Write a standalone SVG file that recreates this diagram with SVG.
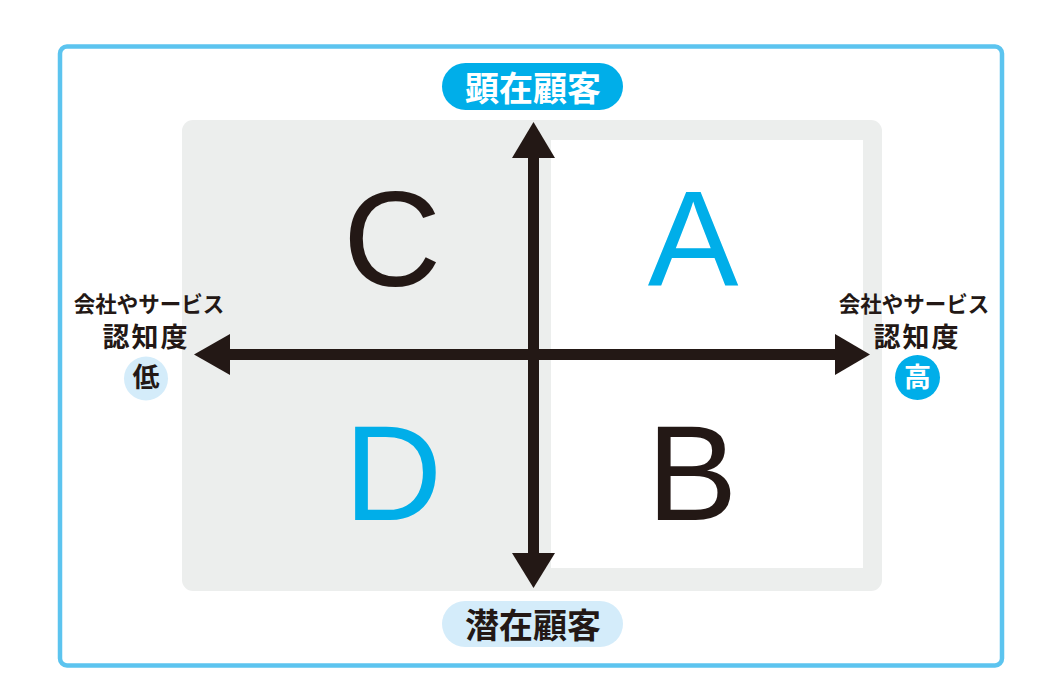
<svg xmlns="http://www.w3.org/2000/svg" width="1062" height="685" viewBox="0 0 1062 685">
<style>
.jp{font-family:"Noto Sans CJK JP","Noto Sans",sans-serif;font-weight:bold;text-anchor:middle}
.big{font-family:"Liberation Sans",Arial,sans-serif;font-size:136px;text-anchor:middle}
.dark{fill:#231815}
.blue{fill:#00aee9}
.ax{fill:#231815}
</style>
<rect x="0" y="0" width="1062" height="685" fill="#ffffff"/>
<g id="frame">
<rect x="60" y="46.5" width="942" height="619" rx="7" fill="none" stroke="#5cc4ef" stroke-width="4.5"/>
</g>
<g id="panel">
<rect x="182" y="120" width="700" height="471" rx="11" fill="#eceeed"/>
<rect x="551" y="140" width="312" height="428" fill="#ffffff"/>
</g>
<g id="quadrant-C"><text class="big dark" x="392" y="286">C</text></g>
<g id="quadrant-A"><text class="big blue" x="693" y="285">A</text></g>
<g id="quadrant-D"><text class="big blue" x="393" y="520">D</text></g>
<g id="quadrant-B"><text class="big dark" x="692" y="520">B</text></g>
<g id="connectors">
<rect x="528" y="150" width="11" height="410" class="ax"/>
<polygon points="533.5,122 512,158 555,158" class="ax"/>
<polygon points="533.5,588 512,553 555,553" class="ax"/>
<rect x="222" y="349" width="620" height="11" class="ax"/>
<polygon points="194,354.5 230,334 230,375" class="ax"/>
<polygon points="870,354.5 835,334 835,375" class="ax"/>
</g>
<g id="label-top">
<rect x="442" y="63" width="181" height="47" rx="23.5" fill="#00aee9"/>
<text class="jp" x="533" y="101" font-size="34" fill="#ffffff">顕在顧客</text>
</g>
<g id="label-bottom">
<rect x="442" y="601" width="181" height="46" rx="23" fill="#d4ecfa"/>
<text class="jp dark" x="533" y="638" font-size="34">潜在顧客</text>
</g>
<g id="label-left">
<text class="jp dark" x="149" y="312" font-size="21.5">会社やサービス</text>
<text class="jp dark" x="146" y="347" font-size="27" letter-spacing="2">認知度</text>
<circle cx="146" cy="378.5" r="22" fill="#d4ecfa"/>
<text class="jp dark" x="146" y="387" font-size="27">低</text>
</g>
<g id="label-right">
<text class="jp dark" x="914" y="312" font-size="21.5">会社やサービス</text>
<text class="jp dark" x="917" y="347" font-size="27" letter-spacing="2">認知度</text>
<circle cx="917.5" cy="377.5" r="22.5" fill="#00aee9"/>
<text class="jp" x="917.5" y="387" font-size="27" fill="#ffffff">高</text>
</g>
</svg>
